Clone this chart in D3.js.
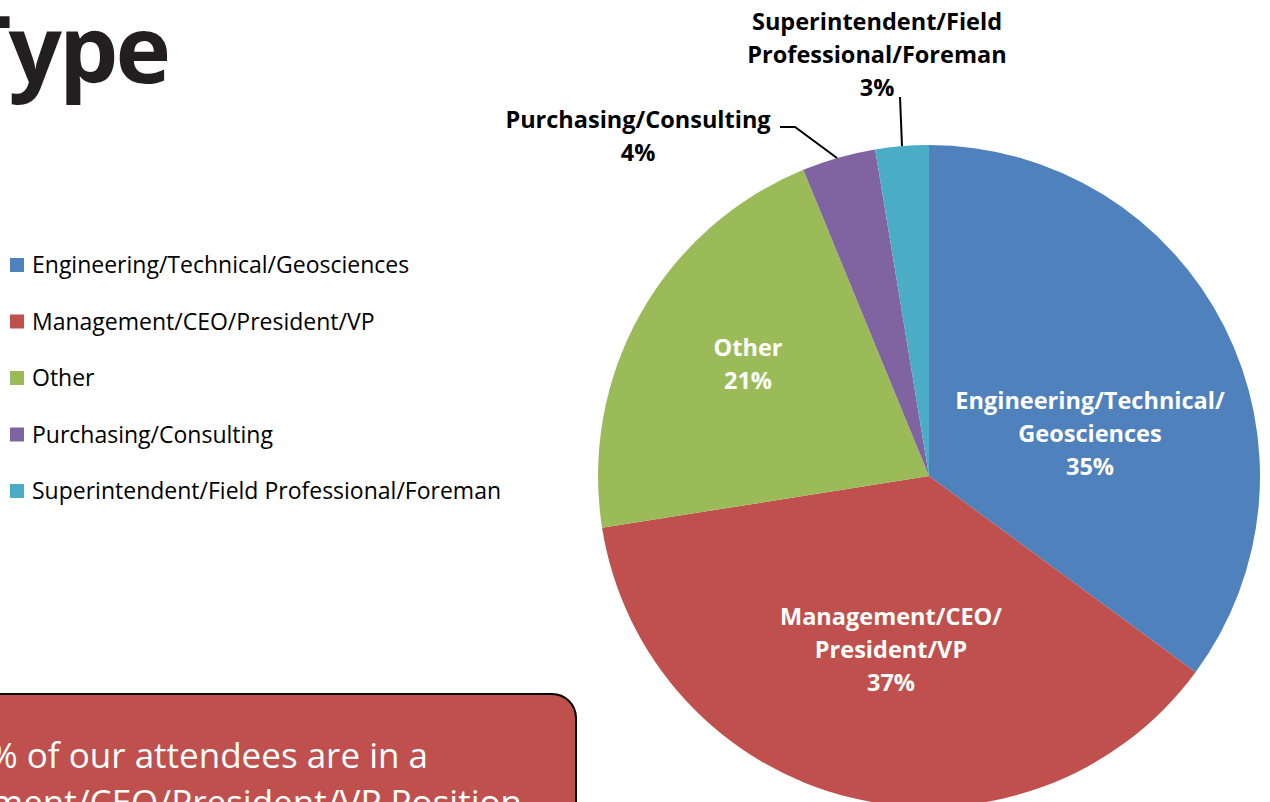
<!DOCTYPE html>
<html>
<head>
<meta charset="utf-8">
<script src="https://cdn.jsdelivr.net/npm/d3@7"></script>
<style>
  html, body { margin: 0; padding: 0; background: #fff; overflow: hidden; }
  svg { display: block; }
</style>
</head>
<body>
<div id="chart"></div>
<script>
// chart data
const categories = [
    "Engineering/Technical/Geosciences",
    "Management/CEO/President/VP",
    "Other",
    "Purchasing/Consulting",
    "Superintendent/Field Professional/Foreman"
]
const values = [35.1, 37.4, 21.3, 3.6, 2.6]
// how each slice label is broken into lines
const sliceLabelLines = [
    ["Engineering/Technical/", "Geosciences"],
    ["Management/CEO/", "President/VP"],
    ["Other"],
    ["Purchasing/Consulting"],
    ["Superintendent/Field", "Professional/Foreman"]
]
const colors = ["#4f81bd", "#c0504d", "#9bbb59", "#8064a2", "#4bacc6"]

const width = 1270, height = 802
const svg = d3.select("#chart").append("svg")
    .attr("width", width)
    .attr("height", height)

// title (cut off at the left edge, as on the slide)
svg.append("text")
    .attr("x", 168)
    .attr("y", 83)
    .attr("text-anchor", "end")
    .style("font-family", "'Open Sans', sans-serif")
    .style("font-weight", 700)
    .style("font-size", "94px")
    .style("letter-spacing", "-3px")
    .attr("fill", "#231f20")
    .text("Type")

// legend
const legend = svg.append("g").attr("transform", "translate(10,265)")
const legendItem = legend.selectAll("g")
    .data(categories)
    .enter()
    .append("g")
    .attr("transform", (d, i) => "translate(0," + (i * 56.5) + ")")
legendItem.append("rect")
    .attr("x", 0)
    .attr("y", -7)
    .attr("width", 14)
    .attr("height", 14)
    .attr("fill", (d, i) => colors[i])
legendItem.append("text")
    .attr("x", 22)
    .attr("dy", "0.35em")
    .style("font-family", "'Open Sans', sans-serif")
    .style("font-size", "23px")
    .attr("fill", "#000")
    .text(d => d)

// pie
const cx = 929, cy = 476, radius = 331
const pie = d3.pie().sort(null).value(d => d)
const arcs = pie(values)
const arc = d3.arc().innerRadius(0).outerRadius(radius)
const g = svg.append("g").attr("transform", "translate(" + cx + "," + cy + ")")

g.selectAll("path")
    .data(arcs)
    .enter()
    .append("path")
    .attr("d", arc)
    .attr("fill", (d, i) => colors[i])

const total = d3.sum(values)
const pct = v => Math.round(v / total * 100) + "%"

// label block centres, relative to the pie centre
const labelPos = [
    [161, -42],
    [-38, 174],
    [-181, -112],
    [-291, -340],
    [-52, -421]
]
const labelFont = "'Open Sans', sans-serif"

function addLabel(lines, x, y, fill) {
    const t = g.append("text")
        .attr("text-anchor", "middle")
        .style("font-family", labelFont)
        .style("font-weight", 700)
        .style("font-size", "23.5px")
        .attr("fill", fill)
    const start = -(lines.length - 1) / 2 * 33
    lines.forEach((l, k) => {
        t.append("tspan")
            .attr("x", x)
            .attr("y", y + start + k * 33)
            .attr("dy", "0.35em")
            .text(l)
    })
}

arcs.forEach((a, i) => {
    const fill = i < 3 ? "#fff" : "#000"
    addLabel(sliceLabelLines[i].concat([pct(a.value)]), labelPos[i][0], labelPos[i][1], fill)
})

// leader lines for the two thin slices
const leaders = [
    [[-149, -349], [-134, -349], [-92, -318]],
    [[-29, -379], [-27, -330]]
]
g.selectAll("path.leader")
    .data(leaders)
    .enter()
    .append("path")
    .attr("class", "leader")
    .attr("d", d => d3.line()(d))
    .attr("fill", "none")
    .attr("stroke", "#000")
    .attr("stroke-width", 2)

// callout box
const box = svg.append("g")
box.append("rect")
    .attr("x", -40)
    .attr("y", 694)
    .attr("width", 616)
    .attr("height", 160)
    .attr("rx", 24)
    .attr("fill", "#c0504d")
    .attr("stroke", "#000")
    .attr("stroke-width", 2)
box.append("text")
    .attr("x", 428)
    .attr("y", 768)
    .attr("text-anchor", "end")
    .style("font-family", "'Open Sans', sans-serif")
    .style("font-size", "35px")
    .attr("fill", "#fff")
    .text(pct(values[1]) + " of our attendees are in a")
box.append("text")
    .attr("x", 522)
    .attr("y", 815)
    .attr("text-anchor", "end")
    .style("font-family", "'Open Sans', sans-serif")
    .style("font-size", "35px")
    .attr("fill", "#fff")
    .text("Management/CEO/President/VP Position")
</script>
</body>
</html>
